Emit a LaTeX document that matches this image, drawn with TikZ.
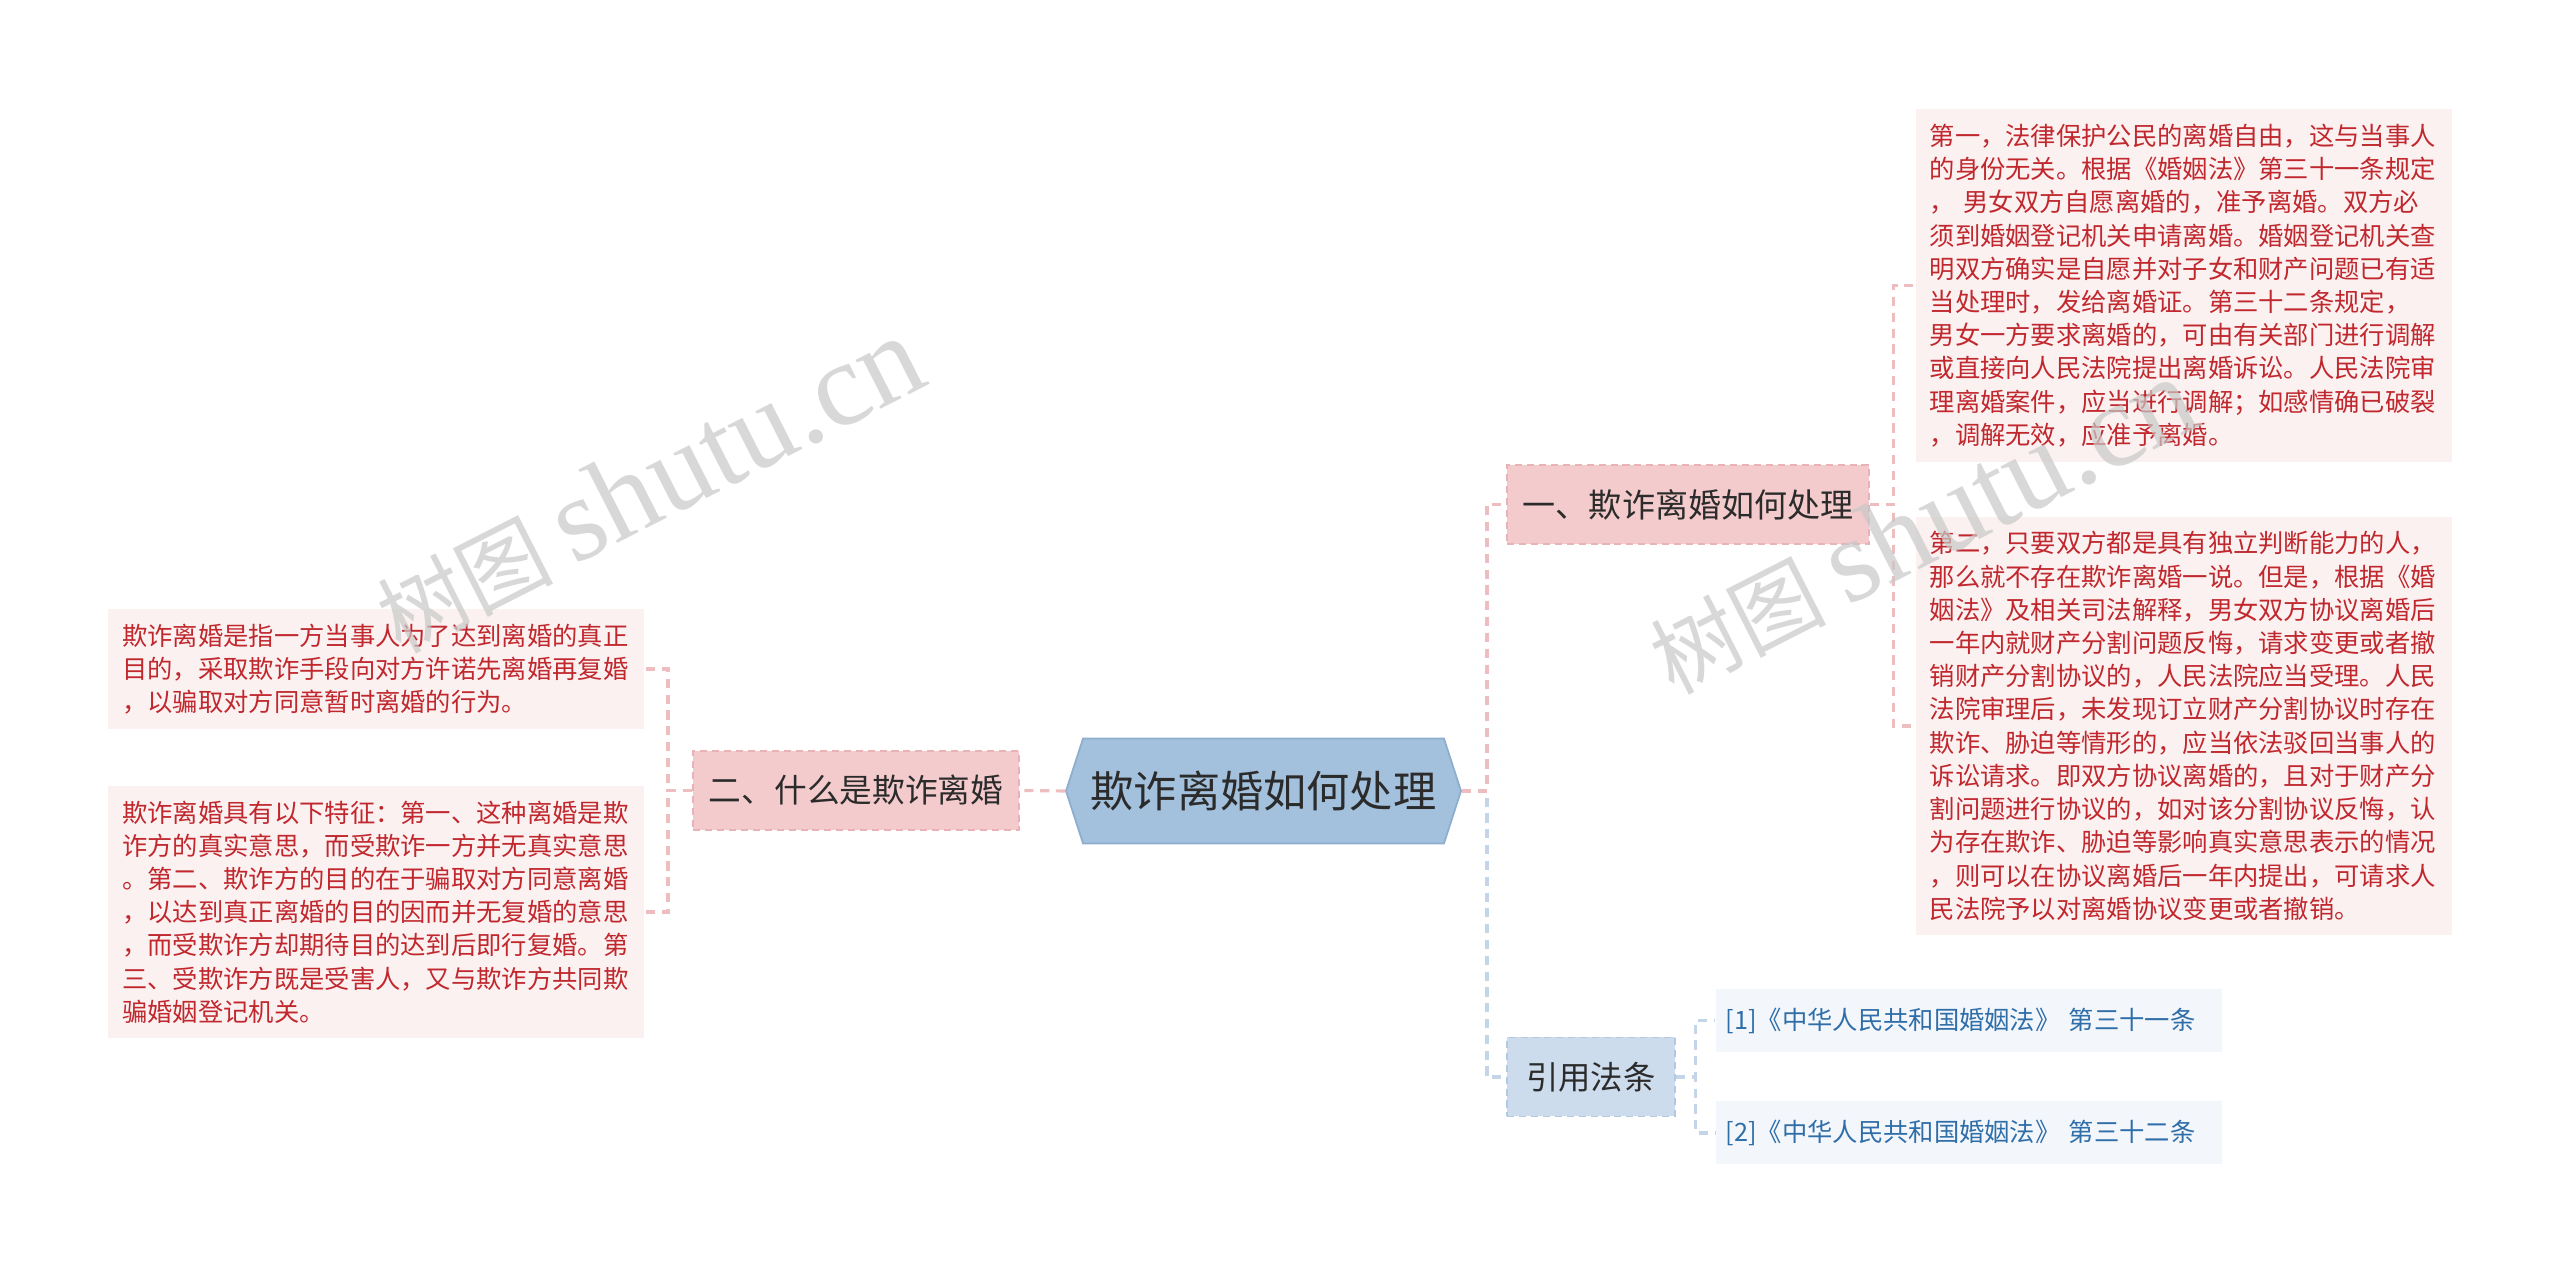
\documentclass[tikz,border=0pt]{standalone}
\usepackage{fontspec}
\setmainfont{Noto Sans CJK SC}
\newfontfamily\wmfont{Liberation Serif}
\usetikzlibrary{shapes.symbols, positioning}

\definecolor{rootfill}{HTML}{A3C0DC}
\definecolor{rootedge}{HTML}{8EAECF}
\definecolor{pinkfill}{HTML}{F4CBCC}
\definecolor{pinkedge}{HTML}{E9B3B5}
\definecolor{bluefill}{HTML}{CCDCEC}
\definecolor{blueedge}{HTML}{B3C9DF}
\definecolor{noteredfill}{HTML}{FCF1F1}
\definecolor{notebluefill}{HTML}{F3F7FC}
\definecolor{notered}{HTML}{C0282E}
\definecolor{noteblue}{HTML}{2F6EA8}
\definecolor{inkdark}{HTML}{2B2B2B}
\definecolor{pinkline}{HTML}{EDBDBF}
\definecolor{blueline}{HTML}{C3D5E6}
\definecolor{wmgray}{HTML}{C8C8C8}

\begin{document}
\begin{tikzpicture}[
  hub/.style={signal, signal to=east and west, signal pointer angle=144, draw=rootedge, fill=rootfill, line width=0.5pt, minimum width=3.95cm, minimum height=1.05cm, inner sep=0pt, font=\fontsize{12.3}{14}\selectfont, text=inkdark},
  topic/.style={rectangle, draw=pinkedge, fill=pinkfill, dash pattern=on 2pt off 1.4pt, line width=0.5pt, minimum height=0.79cm, inner xsep=0.16cm, text=inkdark},
  citetopic/.style={topic, draw=blueedge, fill=bluefill},
  note/.style={rectangle, fill=noteredfill, text=notered, align=left, text width=5.08cm, inner xsep=0.14cm, inner ysep=0.15cm, font=\fontsize{7.2}{9.45}\selectfont},
  citenote/.style={rectangle, fill=notebluefill, text=noteblue, align=left, text width=4.86cm, inner xsep=0.1cm, minimum height=0.63cm, font=\fontsize{7.2}{9}\selectfont},
  link/.style={draw=pinkline, line width=0.9pt, dash pattern=on 2.6pt off 1.9pt},
  citelink/.style={link, draw=blueline},
  watermark/.style={text=wmgray, opacity=0.7, font=\fontsize{25}{25}\selectfont},
]
  \fill[white] (0,0) rectangle (25.6,12.71);
  \useasboundingbox (0,0) rectangle (25.6,12.71);

  % centre
  \node[hub] (root) at (12.635,4.80) {欺诈离婚如何处理};

  % branches
  \node[topic, anchor=west, font=\fontsize{9.4}{11}\selectfont, minimum width=3.62cm] (howto) at (15.06,7.665) {一、欺诈离婚如何处理};
  \node[citetopic, anchor=west, font=\fontsize{9.2}{11}\selectfont, minimum width=1.68cm] (laws) at (15.06,1.94) {引用法条};
  \node[topic, anchor=east, font=\fontsize{9.3}{11}\selectfont] (whatis) at (10.20,4.805) {二、什么是欺诈离婚};

  % notes of branch one
  \node[note, anchor=west] (howto1) at (19.15,9.855) {第一，法律保护公民的离婚自由，这与当事人\\的身份无关。根据《婚姻法》第三十一条规定\\， 男女双方自愿离婚的，准予离婚。双方必\\须到婚姻登记机关申请离婚。婚姻登记机关查\\明双方确实是自愿并对子女和财产问题已有适\\当处理时，发给离婚证。第三十二条规定，\\男女一方要求离婚的，可由有关部门进行调解\\或直接向人民法院提出离婚诉讼。人民法院审\\理离婚案件，应当进行调解；如感情确已破裂\\，调解无效，应准予离婚。};
  \node[note, anchor=west] (howto2) at (19.15,5.45) {第二，只要双方都是具有独立判断能力的人，\\那么就不存在欺诈离婚一说。但是，根据《婚\\姻法》及相关司法解释，男女双方协议离婚后\\一年内就财产分割问题反悔，请求变更或者撤\\销财产分割协议的，人民法院应当受理。人民\\法院审理后，未发现订立财产分割协议时存在\\欺诈、胁迫等情形的，应当依法驳回当事人的\\诉讼请求。即双方协议离婚的，且对于财产分\\割问题进行协议的，如对该分割协议反悔，认\\为存在欺诈、胁迫等影响真实意思表示的情况\\，则可以在协议离婚后一年内提出，可请求人\\民法院予以对离婚协议变更或者撤销。};

  % cited articles
  \node[citenote, anchor=west] (law1) at (17.15,2.505) {[1]《中华人民共和国婚姻法》~第三十一条};
  \node[citenote, anchor=west] (law2) at (17.15,1.38) {[2]《中华人民共和国婚姻法》~第三十二条};

  % notes of branch two
  \node[note, anchor=east] (whatis1) at (6.45,6.02) {欺诈离婚是指一方当事人为了达到离婚的真正\\目的，采取欺诈手段向对方许诺先离婚再复婚\\，以骗取对方同意暂时离婚的行为。};
  \node[note, anchor=east] (whatis2) at (6.45,3.59) {欺诈离婚具有以下特征：第一、这种离婚是欺\\诈方的真实意思，而受欺诈一方并无真实意思\\。第二、欺诈方的目的在于骗取对方同意离婚\\，以达到真正离婚的目的因而并无复婚的意思\\，而受欺诈方却期待目的达到后即行复婚。第\\三、受欺诈方既是受害人，又与欺诈方共同欺\\骗婚姻登记机关。};

  % links
  \draw[citelink] (root.east) -- ++(0.25,0) |- (laws.west);
  \draw[link] (root.east) -- ++(0.25,0) |- (howto.west);
  \draw[link] (root.west) -- (whatis.east);
  \draw[link] (howto.east) -- ++(0.23,0) |- (howto1.west);
  \draw[link] (howto.east) -- ++(0.23,0) |- (howto2.west);
  \draw[citelink] (laws.east) -- ++(0.2,0) |- (law1.west);
  \draw[citelink] (laws.east) -- ++(0.2,0) |- (law2.west);
  \draw[link] (whatis.west) -- ++(-0.24,0) |- (whatis1.east);
  \draw[link] (whatis.west) -- ++(-0.24,0) |- (whatis2.east);

  % watermarks
  \node[watermark, rotate=27] (mark1) at (6.49,7.86) {树图 {\wmfont\fontsize{34}{34}\selectfont shutu.cn}};
  \node[watermark, rotate=27] (mark2) at (19.22,7.45) {树图 {\wmfont\fontsize{34}{34}\selectfont shutu.cn}};
\end{tikzpicture}
\end{document}
